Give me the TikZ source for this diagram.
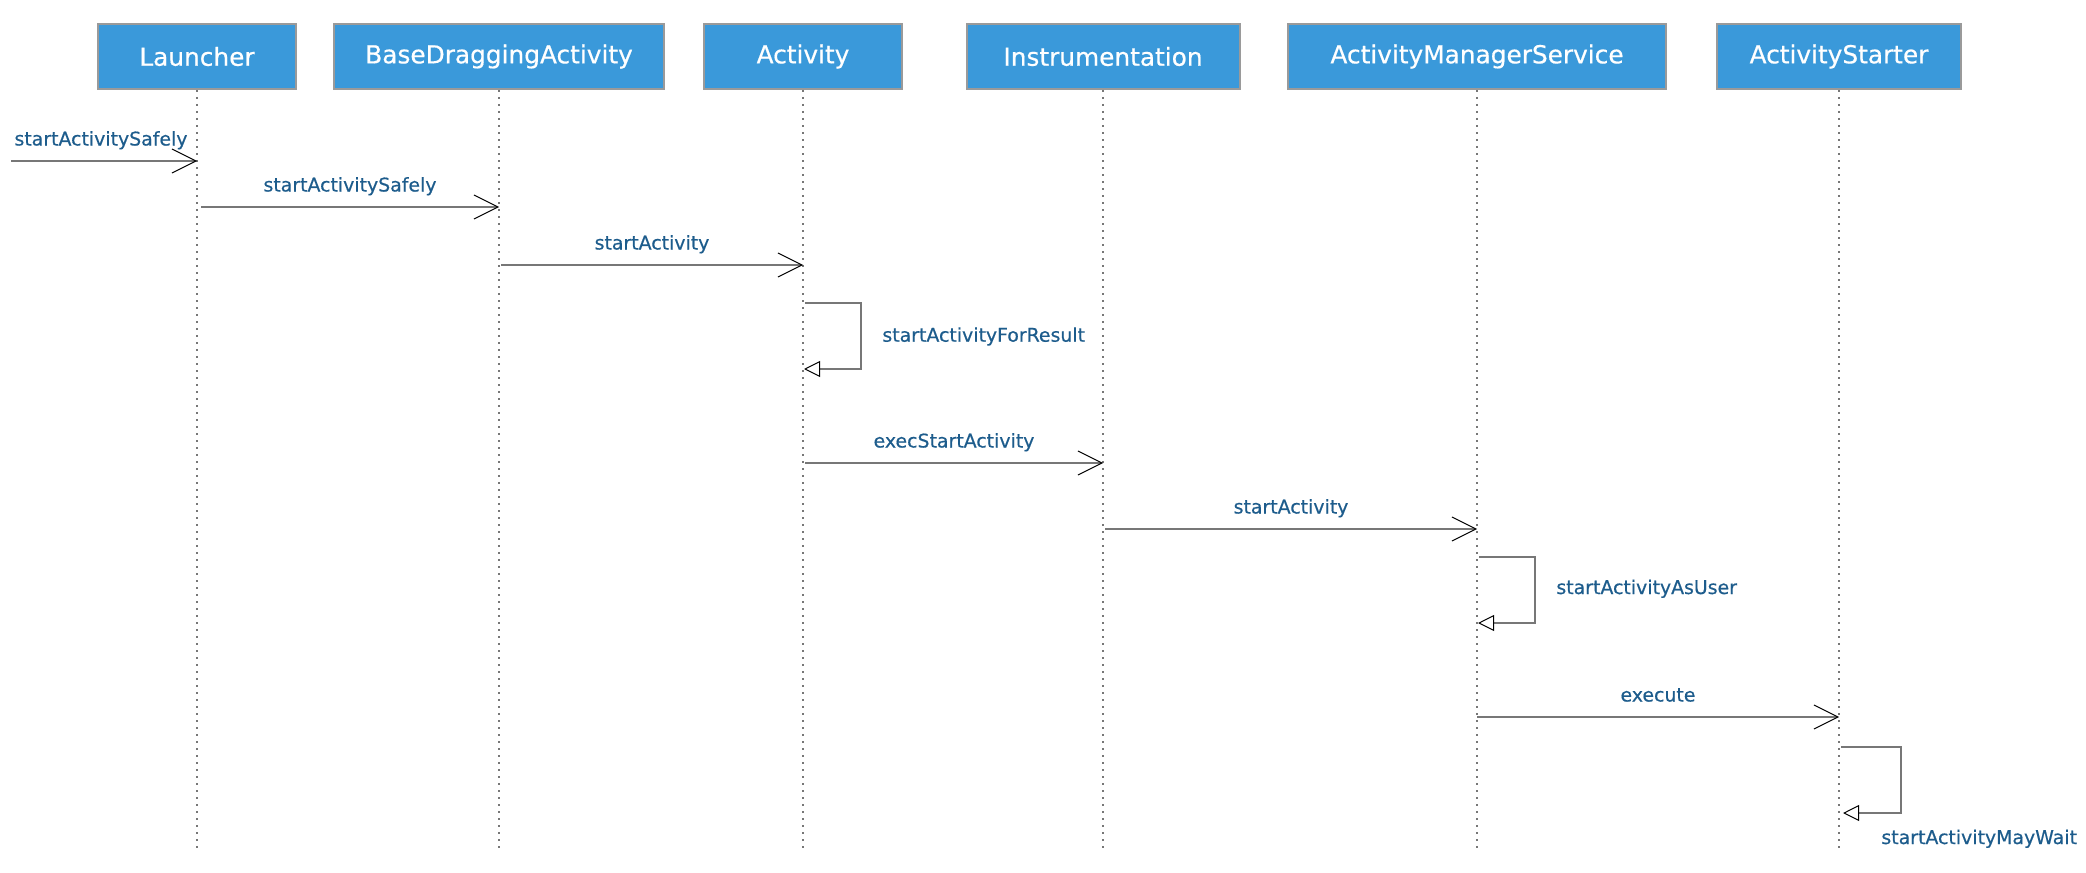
\documentclass[tikz,border=0pt]{standalone}
\usepackage{fontspec}
\setmainfont{DejaVu Sans}
\newfontfamily\lblfont[UprightFeatures={FakeBold=0.5}]{DejaVu Sans}
\usetikzlibrary{arrows.meta,calc}
\definecolor{boxblue}{HTML}{3A99DA}
\definecolor{boxedge}{HTML}{9A9A9A}
\definecolor{lblcol}{HTML}{1D5C8C}
\definecolor{msgline}{HTML}{777777}
\begin{document}
\begin{tikzpicture}[x=0.5pt,y=-0.5pt,
  actor/.style={draw=boxedge, line width=1pt, fill=boxblue, text=white,
    font=\lblfont\fontsize{12.4}{14}\selectfont, minimum height=32.5pt, inner sep=0pt},
  lifeline/.style={draw=msgline, line width=1pt, dash pattern=on 1pt off 2.5pt},
  msg/.style={draw=msgline, line width=1pt,
    -{Straight Barb[length=12pt,width=12pt,line width=0.5pt,color=black]}},
  selfmsg/.style={draw=msgline, line width=1pt,
    -{Triangle[open,length=8pt,width=8pt,line width=0.5pt,color=black]}},
  lbltext/.style={text=lblcol, font=\lblfont\fontsize{9.45}{11}\selectfont, inner sep=0pt}]
\useasboundingbox (0,0) rectangle (2086,872);

% actors
\node[actor, minimum width=99pt]   (L) at (197,56.5)  {Launcher};
\node[actor, minimum width=165pt]  (B) at (499,56.5)  {BaseDraggingActivity};
\node[actor, minimum width=99pt]   (A) at (803,56.5)  {Activity};
\node[actor, minimum width=136.5pt](I) at (1103,56.5) {Instrumentation};
\node[actor, minimum width=189pt]  (M) at (1477,56.5) {ActivityManagerService};
\node[actor, minimum width=122pt]  (S) at (1839,56.5) {ActivityStarter};

% lifelines
\foreach \n in {L,B,A,I,M,S}{
  \draw[lifeline] (\n.south) -- ++(0,758);
}

% message endpoints
\coordinate (m1s) at (11,161);    \coordinate (m1e) at (197,161);
\coordinate (m2s) at (201,207);   \coordinate (m2e) at (499,207);
\coordinate (m3s) at (501,265);   \coordinate (m3e) at (803,265);
\coordinate (s1a) at (805,303);   \coordinate (s1b) at (861,303);
\coordinate (s1c) at (861,369);   \coordinate (s1d) at (804,369);
\coordinate (m4s) at (805,463);   \coordinate (m4e) at (1103,463);
\coordinate (m5s) at (1105,529);  \coordinate (m5e) at (1477,529);
\coordinate (s2a) at (1479,557);  \coordinate (s2b) at (1535,557);
\coordinate (s2c) at (1535,623);  \coordinate (s2d) at (1478,623);
\coordinate (m6s) at (1477,717);  \coordinate (m6e) at (1839,717);
\coordinate (s3a) at (1841,747);  \coordinate (s3b) at (1901,747);
\coordinate (s3c) at (1901,813);  \coordinate (s3d) at (1843,813);

% messages
\draw[msg] (m1s) -- (m1e);
\draw[msg] (m2s) -- (m2e);
\draw[msg] (m3s) -- (m3e);
\draw[selfmsg] (s1a) -- (s1b) -- (s1c) -- (s1d);
\draw[msg] (m4s) -- (m4e);
\draw[msg] (m5s) -- (m5e);
\draw[selfmsg] (s2a) -- (s2b) -- (s2c) -- (s2d);
\draw[msg] (m6s) -- (m6e);
\draw[selfmsg] (s3a) -- (s3b) -- (s3c) -- (s3d);

% labels
\node[lbltext, anchor=base] (t1) at (101,145.5) {startActivitySafely};
\node[lbltext, anchor=base] (t2) at ($(m2s)!0.5!(m2e)+(0,-15.5)$) {startActivitySafely};
\node[lbltext, anchor=base] (t3) at ($(m3s)!0.5!(m3e)+(0,-15.5)$) {startActivity};
\node[lbltext, anchor=base west] (t4) at (882,341.7) {startActivityForResult};
\node[lbltext, anchor=base] (t5) at ($(m4s)!0.5!(m4e)+(0,-15.5)$) {execStartActivity};
\node[lbltext, anchor=base] (t6) at ($(m5s)!0.5!(m5e)+(0,-15.5)$) {startActivity};
\node[lbltext, anchor=base west] (t7) at (1556,594) {startActivityAsUser};
\node[lbltext, anchor=base] (t8) at ($(m6s)!0.5!(m6e)+(0,-15.5)$) {execute};
\node[lbltext, anchor=base west] (t9) at (1881,844) {startActivityMayWait};
\end{tikzpicture}
\end{document}
